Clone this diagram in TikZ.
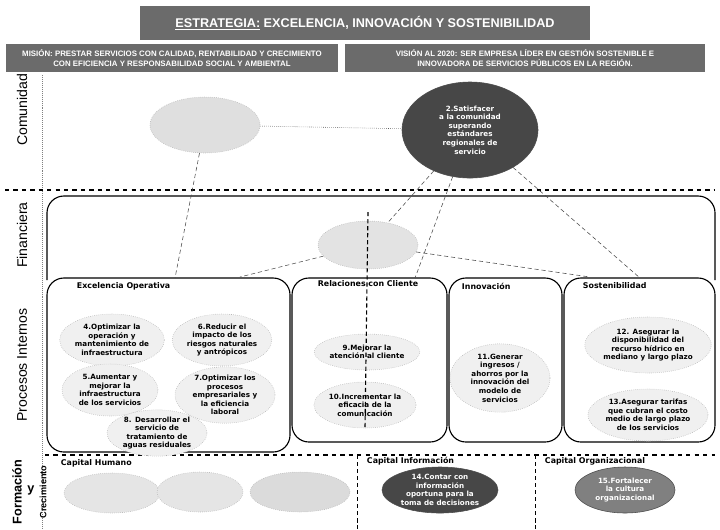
\documentclass[tikz,border=0pt]{standalone}
\usepackage{fontspec}
\setmainfont{DejaVu Sans}
\newfontfamily\arialfont{Liberation Sans}
\usetikzlibrary{shapes.geometric}
\usetikzlibrary{positioning}
\definecolor{hgray}{rgb}{0.42, 0.42, 0.42}
\tikzset{head/.style = {fill=hgray, text=white, inner sep=0, align=center,
                        font=\arialfont\bfseries\fontsize{5.6}{6.8}\selectfont}}
\tikzset{obj/.style = {ellipse, draw=gray!60, densely dotted, fill=gray!12, inner sep=0,
                       align=center, font=\bfseries\fontsize{5.1}{6.1}\selectfont}}
\tikzset{objdark/.style = {obj, solid, draw=black!70, fill=black!72, text=white}}
\tikzset{persp/.style = {draw, thick, rounded corners=12}}
\tikzset{lane/.style = {draw, dashed, thick}}
\tikzset{link/.style = {draw, densely dashed, gray!60!black}}
\tikzset{rowlabel/.style = {rotate=90, font=\arialfont\fontsize{10}{11}\selectfont}}
\tikzset{boxtitle/.style = {font=\bfseries\fontsize{5.6}{6.5}\selectfont}}

\begin{document}
\begin{tikzpicture}[x=0.025cm, y=-0.025cm]
      \useasboundingbox (0, 0) rectangle (720, 529);

      % header
      \node [head, minimum width=11.25cm, minimum height=0.85cm, font=\arialfont\bfseries\fontsize{9}{10}\selectfont]
            (title) at (365, 23) {\underline{ESTRATEGIA:} EXCELENCIA, INNOVACIÓN Y SOSTENIBILIDAD};
      \node [head, minimum width=8.3cm, minimum height=0.68cm] (mision) at (172, 58)
            {MISIÓN: PRESTAR SERVICIOS CON CALIDAD, RENTABILIDAD Y CRECIMIENTO\\
             CON EFICIENCIA Y RESPONSABILIDAD SOCIAL Y AMBIENTAL};
      \node [head, minimum width=9.0cm, minimum height=0.68cm] (vision) at (525, 58)
            {VISIÓN AL 2020: SER EMPRESA LÍDER EN GESTIÓN SOSTENIBLE E\\
             INNOVADORA DE SERVICIOS PÚBLICOS EN LA REGIÓN.};

      % rows
      \draw [densely dotted, gray] (42, 75) -- (42, 529);
      \draw [lane] (5, 190) -- (715, 190);
      \draw [persp] (47, 280) -- (47, 196) -- (715, 196) -- (715, 280);
      \draw [lane] (45, 455) -- (715, 455);
      \draw [densely dashed] (357, 455) -- (357, 529);
      \draw [densely dashed] (535, 455) -- (535, 529);

      \node [rowlabel] (lcom) at (22, 110) {Comunidad};
      \node [rowlabel] (lfin) at (22, 235) {Financiera};
      \node [rowlabel] (lpro) at (22, 365) {Procesos Internos};
      \node [rowlabel, font=\arialfont\bfseries\fontsize{9}{10}\selectfont] (lfor) at (17, 492) {Formación};
      \node [font=\arialfont\bfseries\fontsize{9}{10}\selectfont] (ly) at (31, 490) {y};
      \node [rowlabel, font=\arialfont\bfseries\fontsize{6.5}{7}\selectfont] (lcre) at (43, 492) {Crecimiento};

      % perspectiva de procesos
      \draw [persp] (47, 278) rectangle (290, 452);
      \draw [persp] (292, 278) rectangle (447, 442);
      \draw [persp] (449, 278) rectangle (562, 442);
      \draw [persp] (564, 278) rectangle (715, 442);
      \node [boxtitle, anchor=west] (texc) at (72, 286) {Excelencia Operativa};
      \node [boxtitle] (trel) at (368, 284) {Relaciones con Cliente};
      \node [boxtitle, anchor=west] (tinn) at (457, 286) {Innovación};
      \node [boxtitle, anchor=west] (tsos) at (578, 286) {Sostenibilidad};

      \node [boxtitle, anchor=west] (thum) at (56, 463) {Capital Humano};
      \node [boxtitle, anchor=west] (tinf) at (362, 461) {Capital Información};
      \node [boxtitle, anchor=west] (torg) at (540, 461) {Capital Organizacional};

      % objetivos
      \node [obj, fill=gray!25, minimum width=2.75cm, minimum height=1.4cm] (coml) at (205, 125) {};
      \node [objdark, minimum width=3.4cm, minimum height=2.4cm] (comr) at (470, 130)
            {2.Satisfacer\\a la comunidad\\superando\\estándares\\regionales de\\servicio};
      \node [obj, fill=gray!22, minimum width=2.5cm, minimum height=1.2cm] (fin) at (368, 245) {};

      \node [obj, minimum width=2.4cm, minimum height=1.3cm] (p4) at (112, 340)
            {4.Optimizar la\\operación y\\mantenimiento de\\infraestructura};
      \node [obj, minimum width=2.4cm, minimum height=1.3cm] (p6) at (222, 340)
            {6.Reducir el\\impacto de los\\riesgos naturales\\y antrópicos};
      \node [obj, minimum width=2.4cm, minimum height=1.3cm] (p5) at (110, 390)
            {5.Aumentar y\\mejorar la\\infraestructura\\de los servicios};
      \node [obj, minimum width=2.5cm, minimum height=1.4cm] (p7) at (225, 395)
            {7.Optimizar los\\procesos\\empresariales y\\la eficiencia\\laboral};
      \node [obj, minimum width=2.5cm, minimum height=1.05cm] (p8) at (157, 433)
            {8. Desarrollar el\\servicio de\\tratamiento de\\aguas residuales};
      \node [obj, minimum width=2.3cm, minimum height=0.9cm] (p9) at (367, 352)
            {9.Mejorar la\\atención al cliente};
      \node [obj, minimum width=2.5cm, minimum height=1.15cm] (p10) at (365, 405)
            {10.Incrementar la\\eficacia de la\\comunicación};
      \node [obj, minimum width=2.5cm, minimum height=1.65cm] (p11) at (500, 378)
            {11.Generar\\ingresos /\\ahorros por la\\innovación del\\modelo de\\servicios};
      \node [obj, minimum width=2.9cm, minimum height=1.4cm] (p12) at (648, 345)
            {12. Asegurar la\\disponibilidad del\\recurso hídrico en\\mediano y largo plazo};
      \node [obj, minimum width=3.0cm, minimum height=1.3cm] (p13) at (648, 415)
            {13.Asegurar tarifas\\que cubran el costo\\medio de largo plazo\\de los servicios};

      \node [obj, fill=gray!20, minimum width=2.4cm, minimum height=1.0cm] (h1) at (112, 493) {};
      \node [obj, fill=gray!20, minimum width=2.15cm, minimum height=1.0cm] (h2) at (200, 492) {};
      \node [obj, fill=gray!28, minimum width=2.5cm, minimum height=1.0cm] (h3) at (300, 492) {};
      \node [objdark, minimum width=2.9cm, minimum height=1.15cm] (cinf) at (440, 490)
            {14.Contar con\\información\\oportuna para la\\toma de decisiones};
      \node [objdark, fill=black!50, minimum width=2.5cm, minimum height=1.15cm] (corg) at (625, 490)
            {15.Fortalecer\\la cultura\\organizacional};

      % relaciones
      \coordinate (c1) at (175, 278);
      \coordinate (c2) at (240, 277);
      \coordinate (c3) at (415, 278);
      \coordinate (c4) at (640, 278);
      \coordinate (c5) at (590, 277);
      \coordinate (c6) at (368, 212);
      \draw [link, densely dotted] (coml) -- (comr);
      \draw [link] (coml) -- (c1);
      \draw [link] (comr) -- (fin);
      \draw [link] (comr) -- (c3);
      \draw [link] (comr) -- (c4);
      \draw [link] (fin) -- (c2);
      \draw [link] (fin) -- (c5);
      \draw [thick, densely dashed] (c6) -- (p10.south);
    \end{tikzpicture}
\end{document}
